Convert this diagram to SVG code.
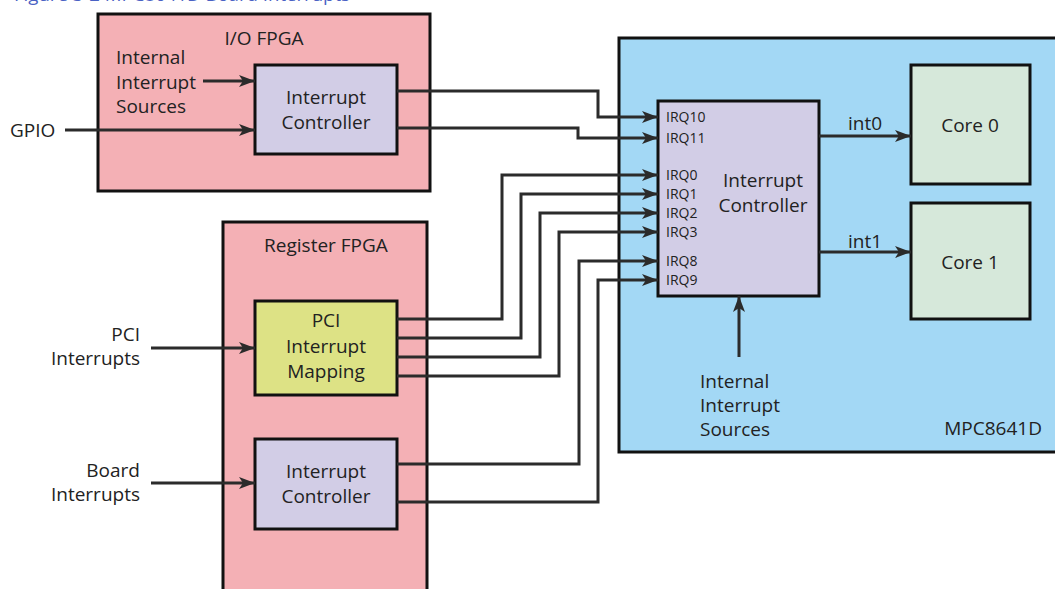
<svg xmlns="http://www.w3.org/2000/svg" width="1055" height="589" viewBox="0 0 1055 589">
  <style>
    text { font-family: "Open Sans", "Noto Sans", "Liberation Sans", sans-serif; fill: #222; }
    .lbl { font-size: 19px; }
    .mid { text-anchor: middle; }
    .end { text-anchor: end; }
    .irq { font-size: 14px; }
    .title { font-size: 19px; fill: #4a62c4; }
    .fpga { fill: #f4b0b5; stroke: #111; stroke-width: 3; }
    .soc { fill: #a3d8f5; stroke: #111; stroke-width: 3; }
    .ctl { fill: #d2cde6; stroke: #111; stroke-width: 3; }
    .map { fill: #dde285; stroke: #111; stroke-width: 3; }
    .core { fill: #d6e8da; stroke: #111; stroke-width: 3; }
    .arr { fill: none; stroke: #2b2b2b; stroke-width: 3; marker-end: url(#head); }
  </style>
  <defs>
    <marker id="head" viewBox="0 0 16 12" refX="16" refY="6" markerWidth="16" markerHeight="12" markerUnits="userSpaceOnUse" orient="auto">
      <path d="M0,0 L16,6 L0,12 L4,6 Z" fill="#2b2b2b"/>
    </marker>
  </defs>

  <rect width="1055" height="589" fill="#fff"/>

  <!-- figure caption, clipped at the top edge -->
  <text class="title" x="14" y="1" textLength="336" lengthAdjust="spacingAndGlyphs">Figure 3-2 MPC8641D Board Interrupts</text>

  <!-- I/O FPGA -->
  <g id="io-fpga">
    <rect class="fpga" x="98" y="14" width="332" height="177"/>
    <text class="lbl mid" x="264" y="45">I/O FPGA</text>
    <text class="lbl" x="116" y="64">Internal</text>
    <text class="lbl" x="116" y="89">Interrupt</text>
    <text class="lbl" x="116" y="113">Sources</text>
  </g>
  <g id="io-ic">
    <rect class="ctl" x="255" y="65" width="142" height="89"/>
    <text class="lbl mid" x="326" y="104">Interrupt</text>
    <text class="lbl mid" x="326" y="129">Controller</text>
  </g>
  <g id="gpio-label">
    <text class="lbl" x="10" y="137">GPIO</text>
  </g>

  <!-- Register FPGA -->
  <g id="reg-fpga">
    <rect class="fpga" x="223" y="222" width="204" height="380"/>
    <text class="lbl mid" x="326" y="252">Register FPGA</text>
  </g>
  <g id="pci-map">
    <rect class="map" x="255" y="301" width="142" height="94"/>
    <text class="lbl mid" x="326" y="327">PCI</text>
    <text class="lbl mid" x="326" y="353">Interrupt</text>
    <text class="lbl mid" x="326" y="378">Mapping</text>
  </g>
  <g id="board-ic">
    <rect class="ctl" x="255" y="439" width="142" height="90"/>
    <text class="lbl mid" x="326" y="478">Interrupt</text>
    <text class="lbl mid" x="326" y="503">Controller</text>
  </g>
  <g id="pci-label">
    <text class="lbl end" x="140" y="341">PCI</text>
    <text class="lbl end" x="140" y="365">Interrupts</text>
  </g>
  <g id="board-label">
    <text class="lbl end" x="140" y="477">Board</text>
    <text class="lbl end" x="140" y="501">Interrupts</text>
  </g>

  <!-- MPC8641D -->
  <g id="mpc8641d">
    <rect class="soc" x="619" y="38" width="450" height="414"/>
    <text class="lbl end" x="1042" y="435">MPC8641D</text>
    <text class="lbl" x="700" y="388">Internal</text>
    <text class="lbl" x="700" y="412">Interrupt</text>
    <text class="lbl" x="700" y="436">Sources</text>
  </g>
  <g id="mpc-ic">
    <rect class="ctl" x="658" y="101" width="161" height="195"/>
    <text class="lbl mid" x="763" y="187">Interrupt</text>
    <text class="lbl mid" x="763" y="212">Controller</text>
    <text class="irq" x="666" y="122">IRQ10</text>
    <text class="irq" x="666" y="143">IRQ11</text>
    <text class="irq" x="666" y="180">IRQ0</text>
    <text class="irq" x="666" y="199">IRQ1</text>
    <text class="irq" x="666" y="218">IRQ2</text>
    <text class="irq" x="666" y="237">IRQ3</text>
    <text class="irq" x="666" y="266">IRQ8</text>
    <text class="irq" x="666" y="285">IRQ9</text>
  </g>
  <g id="core0">
    <rect class="core" x="911" y="65" width="119" height="119"/>
    <text class="lbl mid" x="970" y="132">Core 0</text>
  </g>
  <g id="core1">
    <rect class="core" x="911" y="203" width="119" height="116"/>
    <text class="lbl mid" x="970" y="269">Core 1</text>
  </g>

  <!-- connectors -->
  <g id="connectors">
    <path class="arr" d="M203,81 H255"/>
    <path class="arr" d="M65,130 H255"/>
    <path class="arr" d="M151,348 H255"/>
    <path class="arr" d="M151,483 H255"/>

    <path class="arr" d="M397,91 H598 V117 H658"/>
    <path class="arr" d="M397,128 H578 V138 H658"/>

    <path class="arr" d="M397,319 H502 V175 H658"/>
    <path class="arr" d="M397,338 H521 V194 H658"/>
    <path class="arr" d="M397,357 H540 V213 H658"/>
    <path class="arr" d="M397,376 H559 V232 H658"/>
    <path class="arr" d="M397,464 H579 V261 H658"/>
    <path class="arr" d="M397,502 H598 V280 H658"/>

    <path class="arr" d="M819,136 H911"/>
    <path class="arr" d="M819,252 H911"/>
    <path class="arr" d="M739,357 V296"/>
    <text class="lbl mid" x="865" y="130">int0</text>
    <text class="lbl mid" x="865" y="248">int1</text>
  </g>
</svg>
